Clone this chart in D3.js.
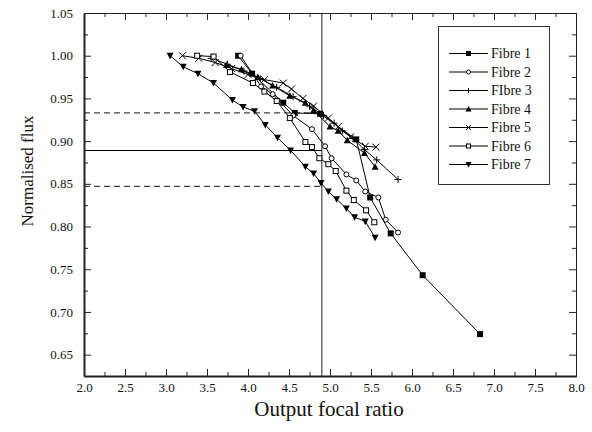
<!DOCTYPE html>
<html><head><meta charset="utf-8">
<script src="https://cdn.jsdelivr.net/npm/d3@7"></script>
<style>body{margin:0;background:#fff}svg{display:block}text{font-family:"Liberation Serif","Times New Roman",serif;fill:#111}</style>
</head><body><svg id="c" width="592" height="432"></svg>
<script>
// ---- data ----
const xTickValues = [2.0,2.5,3.0,3.5,4.0,4.5,5.0,5.5,6.0,6.5,7.0,7.5,8.0];
const yTickValues = [0.65,0.70,0.75,0.80,0.85,0.90,0.95,1.00,1.05];
const seriesNames = ["Fibre 1","Fibre 2","FIbre 3","Fibre 4","Fibre 5","Fibre 6","Fibre 7"];
const fibre1X = [3.88,4.05,4.43,4.57,4.88,5.32,5.49,5.74,6.13,6.83];
const fibre1Y = [1.000,0.979,0.945,0.933,0.932,0.902,0.834,0.792,0.743,0.674];
const fibre2X = [3.91,4.16,4.30,4.55,4.78,4.94,5.02,5.20,5.32,5.43,5.59,5.68,5.83];
const fibre2Y = [1.000,0.964,0.955,0.930,0.914,0.894,0.880,0.861,0.854,0.841,0.834,0.808,0.793];
const fibre3X = [3.55,3.75,3.95,4.15,4.35,4.55,4.75,4.92,5.05,5.15,5.28,5.42,5.57,5.83];
const fibre3Y = [0.997,0.990,0.982,0.973,0.963,0.952,0.941,0.930,0.921,0.912,0.903,0.890,0.878,0.855];
const fibre4X = [3.74,3.92,4.12,4.30,4.51,4.70,4.80,5.00,5.10,5.21,5.42,5.55];
const fibre4Y = [0.989,0.984,0.975,0.965,0.953,0.945,0.936,0.917,0.912,0.901,0.886,0.870];
const fibre5X = [3.20,3.40,3.60,3.80,4.00,4.20,4.43,4.53,4.67,4.80,4.98,5.10,5.25,5.43,5.56];
const fibre5Y = [1.000,0.997,0.992,0.985,0.978,0.972,0.968,0.961,0.950,0.941,0.927,0.917,0.905,0.894,0.893];
const fibre6X = [3.38,3.58,3.78,4.06,4.20,4.35,4.51,4.70,4.78,4.87,4.98,5.07,5.20,5.29,5.44,5.54];
const fibre6Y = [1.000,0.999,0.981,0.968,0.958,0.947,0.927,0.899,0.893,0.880,0.873,0.865,0.842,0.831,0.819,0.805];
const fibre7X = [3.05,3.21,3.39,3.58,3.81,3.94,4.08,4.21,4.36,4.52,4.70,4.80,4.89,4.98,5.08,5.20,5.30,5.43,5.55];
const fibre7Y = [1.000,0.987,0.979,0.968,0.948,0.940,0.935,0.919,0.904,0.889,0.870,0.862,0.851,0.841,0.832,0.821,0.811,0.806,0.787];
const markerTypes = ["square","circle","plus","triangle","cross","opensquare","triangledown"];
const refFocal = 4.9;
const refFluxSolid = 0.889;
const refFluxDashed = [0.933,0.847];

// ---- layout ----
const svg = d3.select("#c");
const x = d3.scaleLinear().domain([2,8]).range([84,576]);
const y = d3.scaleLinear().domain([0.625,1.05]).range([376,13]);

const fibres = [[fibre1X,fibre1Y],[fibre2X,fibre2Y],[fibre3X,fibre3Y],[fibre4X,fibre4Y],[fibre5X,fibre5Y],[fibre6X,fibre6Y],[fibre7X,fibre7Y]]
  .map(([xs,ys],i)=>({name:seriesNames[i],type:markerTypes[i],pts:xs.map((v,j)=>[v,ys[j]])}));

function marker(g,type,s){
  const h=s/2;
  if(type==="square") g.append("rect").attr("x",-h).attr("y",-h).attr("width",s).attr("height",s).attr("fill","#000");
  else if(type==="opensquare") g.append("rect").attr("x",-h+0.5).attr("y",-h+0.5).attr("width",s-1).attr("height",s-1).attr("fill","#fff").attr("stroke","#000").attr("stroke-width",1);
  else if(type==="circle") g.append("circle").attr("r",h-0.5).attr("fill","#fff").attr("stroke","#000").attr("stroke-width",1);
  else if(type==="plus") g.append("path").attr("d",`M${-h},0H${h}M0,${-h}V${h}`).attr("stroke","#000").attr("stroke-width",1).attr("fill","none");
  else if(type==="cross") g.append("path").attr("d",`M${-h},${-h}L${h},${h}M${-h},${h}L${h},${-h}`).attr("stroke","#000").attr("stroke-width",1).attr("fill","none");
  else if(type==="triangle") g.append("path").attr("d",`M0,${-h-0.5}L${h+0.5},${h}L${-h-0.5},${h}Z`).attr("fill","#000");
  else if(type==="triangledown") g.append("path").attr("d",`M0,${h+0.5}L${h+0.5},${-h}L${-h-0.5},${-h}Z`).attr("fill","#000");
}

// reference lines
svg.append("line").attr("x1",x(refFocal)).attr("x2",x(refFocal)).attr("y1",y(1.05)).attr("y2",y(0.625)).attr("stroke","#555").attr("stroke-width",1.3);
svg.append("line").attr("x1",x(2)).attr("x2",x(refFocal)).attr("y1",y(refFluxSolid)).attr("y2",y(refFluxSolid)).attr("stroke","#000").attr("stroke-width",1);
refFluxDashed.forEach(v=>svg.append("line").attr("x1",x(2)).attr("x2",x(refFocal)).attr("y1",y(v)).attr("y2",y(v)).attr("stroke","#444").attr("stroke-width",1.2).attr("stroke-dasharray","6,4"));

// series
const line = d3.line().x(d=>x(d[0])).y(d=>y(d[1]));
fibres.forEach(f=>{
  svg.append("path").attr("d",line(f.pts)).attr("fill","none").attr("stroke","#000").attr("stroke-width",1);
});
fibres.forEach(f=>{
  f.pts.forEach(p=>{
    const g=svg.append("g").attr("transform",`translate(${x(p[0])},${y(p[1])})`);
    marker(g,f.type,f.type==="plus"||f.type==="cross"?7:6);
  });
});

// axes
const minorX = d3.range(2.25,8,0.5);
const minorY = d3.range(0.625,1.05,0.05).map(v=>+v.toFixed(3));
const axB = svg.append("g").attr("transform",`translate(0,${y(0.625)})`)
  .call(d3.axisBottom(x).tickValues(xTickValues).tickFormat(d3.format(".1f")).tickSizeInner(-7).tickSizeOuter(0).tickPadding(7));
const axL = svg.append("g").attr("transform",`translate(${x(2)},0)`)
  .call(d3.axisLeft(y).tickValues(yTickValues).tickFormat(d3.format(".2f")).tickSizeInner(-7).tickSizeOuter(0).tickPadding(11));
const axT = svg.append("g").attr("transform",`translate(0,${y(1.05)})`)
  .call(d3.axisTop(x).tickValues(xTickValues).tickFormat("").tickSizeInner(-7).tickSizeOuter(0));
const axR = svg.append("g").attr("transform",`translate(${x(8)},0)`)
  .call(d3.axisRight(y).tickValues(yTickValues).tickFormat("").tickSizeInner(-7).tickSizeOuter(0));
svg.append("g").attr("transform",`translate(0,${y(0.625)})`).call(d3.axisBottom(x).tickValues(minorX).tickFormat("").tickSizeInner(-4).tickSizeOuter(0));
svg.append("g").attr("transform",`translate(0,${y(1.05)})`).call(d3.axisTop(x).tickValues(minorX).tickFormat("").tickSizeInner(-4).tickSizeOuter(0));
svg.append("g").attr("transform",`translate(${x(2)},0)`).call(d3.axisLeft(y).tickValues(minorY).tickFormat("").tickSizeInner(-4).tickSizeOuter(0));
svg.append("g").attr("transform",`translate(${x(8)},0)`).call(d3.axisRight(y).tickValues(minorY).tickFormat("").tickSizeInner(-4).tickSizeOuter(0));
svg.selectAll(".domain").attr("stroke","#222");
svg.selectAll(".tick line").attr("stroke","#222");
axB.select(".domain").attr("stroke-width",2);
axL.select(".domain").attr("stroke-width",2);
svg.selectAll(".tick text").attr("font-size",13).attr("font-family","'Liberation Serif',serif").attr("fill","#111");

// titles
svg.append("text").attr("x",329).attr("y",416).attr("text-anchor","middle").attr("font-size",21).text("Output focal ratio");
svg.append("text").attr("transform","translate(33,171) rotate(-90)").attr("text-anchor","middle").attr("font-size",17).text("Normalised flux");

// legend
const lg = svg.append("g");
lg.append("rect").attr("x",438.5).attr("y",26.5).attr("width",111).attr("height",158).attr("fill","#fff").attr("stroke","#333").attr("stroke-width",1);
fibres.forEach((f,i)=>{
  const yy = 53.5 + i*18.5;
  lg.append("line").attr("x1",449).attr("x2",488).attr("y1",yy).attr("y2",yy).attr("stroke","#000").attr("stroke-width",1);
  const g = lg.append("g").attr("transform",`translate(468.5,${yy})`);
  marker(g,f.type,5);
  lg.append("text").attr("x",491).attr("y",yy+4.5).attr("font-size",14).text(f.name);
});
</script></body></html>
